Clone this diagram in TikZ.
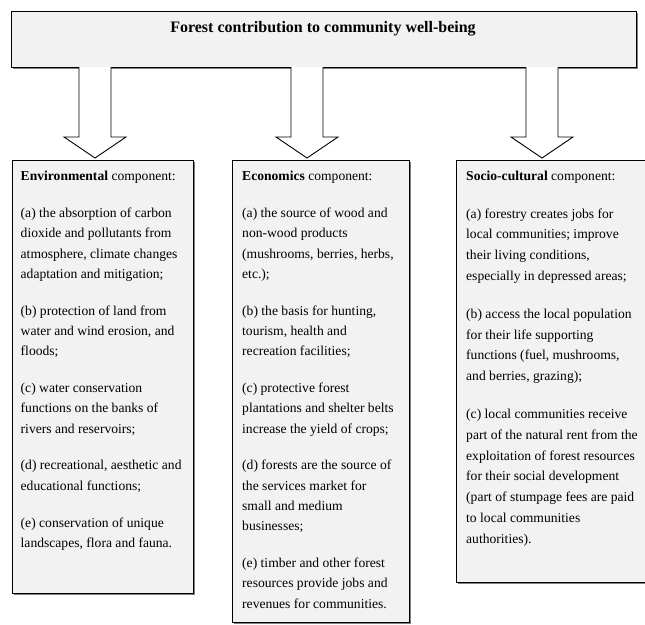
\documentclass[tikz,border=0pt]{standalone}
\usepackage{fontspec}
\setmainfont{Liberation Serif}
\usetikzlibrary{shadows,calc}
\definecolor{panelfill}{HTML}{F2F2F2}
\definecolor{shadowgray}{HTML}{7F7F7F}
\tikzset{
  panel/.style={draw=black, line width=0.9pt, fill=panelfill, inner sep=0pt,
    drop shadow={shadow xshift=1.6pt, shadow yshift=-1.6pt, fill=shadowgray, opacity=1}},
  bodytext/.style={anchor=north west, inner sep=0pt, align=left,
    font=\fontsize{13.6}{20.3}\selectfont},
  loosetext/.style={bodytext, font=\fontsize{13.6}{20.9}\selectfont},
  titletext/.style={anchor=base, inner sep=0pt, font=\fontsize{16}{19}\selectfont\bfseries},
  blockarrow/.style={draw=black, line width=0.9pt, fill=white, line join=miter}
}
\newcommand{\pgap}{\\[16.5pt]}
\begin{document}
\begin{tikzpicture}[x=1pt,y=-1pt]
\useasboundingbox (0,0) rectangle (645,624);
% title
\node[panel, minimum width=625.5pt, minimum height=56pt, anchor=north west] (title) at (10.5,11) {};
\node[titletext] (titlelabel) at (323,32) {Forest contribution to community well-being};
% panels
\node[panel, minimum width=181.5pt, minimum height=433pt, anchor=north west] (env) at (11.5,160) {};
\node[panel, minimum width=176.5pt, minimum height=462pt, anchor=north west] (eco) at (232,160) {};
\node[panel, minimum width=190pt, minimum height=422pt, anchor=north west] (soc) at (456,160) {};
% block arrows
\foreach \n/\cx in {a1/95, a2/307, a3/542}{
  \coordinate (\n) at (\cx,158);
  \draw[blockarrow] ($(\n)+(-16,-91)$) -- ($(\n)+(-16,-21)$) -- ($(\n)+(-31,-21)$) -- (\n)
     -- ($(\n)+(31,-21)$) -- ($(\n)+(16,-21)$) -- ($(\n)+(16,-91)$);
}
% texts
\node[bodytext] (envtext) at ([shift={(9,11)}]env.north west) {%
\textbf{Environmental} component:\pgap
(a) the absorption of carbon\\
dioxide and pollutants from\\
atmosphere, climate changes\\
adaptation and mitigation;\pgap
(b) protection of land from\\
water and wind erosion, and\\
floods;\pgap
(c) water conservation\\
functions on the banks of\\
rivers and reservoirs;\pgap
(d) recreational, aesthetic and\\
educational functions;\pgap
(e) conservation of unique\\
landscapes, flora and fauna.};
\node[bodytext] (ecotext) at ([shift={(10,11)}]eco.north west) {%
\textbf{Economics} component:\pgap
(a) the source of wood and\\
non-wood products\\
(mushrooms, berries, herbs,\\
etc.);\pgap
(b) the basis for hunting,\\
tourism, health and\\
recreation facilities;\pgap
(c) protective forest\\
plantations and shelter belts\\
increase the yield of crops;\pgap
(d) forests are the source of\\
the services market for\\
small and medium\\
businesses;\pgap
(e) timber and other forest\\
resources provide jobs and\\
revenues for communities.};
\node[loosetext] (soctext) at ([shift={(10,11)}]soc.north west) {%
\textbf{Socio-cultural} component:\pgap
(a) forestry creates jobs for\\
local communities; improve\\
their living conditions,\\
especially in depressed areas;\pgap
(b) access the local population\\
for their life supporting\\
functions (fuel, mushrooms,\\
and berries, grazing);\pgap
(c) local communities receive\\
part of the natural rent from the\\
exploitation of forest resources\\
for their social development\\
(part of stumpage fees are paid\\
to local communities\\
authorities).};
\end{tikzpicture}
\end{document}
